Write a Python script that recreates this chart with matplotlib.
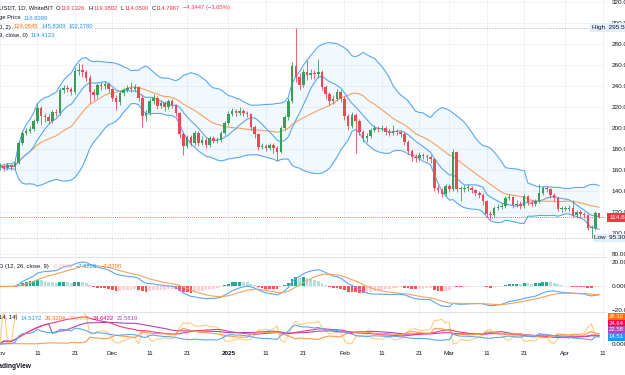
import numpy as np
import pandas as pd
import matplotlib
matplotlib.use("Agg")
import matplotlib.pyplot as plt

W, H = 625, 375

# daily candles, 2024-11-01 .. 2025-04-10
opens = [163, 164, 162, 165, 163, 167, 186, 195, 197, 199,
         207, 219, 211, 210, 207, 215, 214, 236, 238, 237,
         234, 254, 255, 253, 248, 234, 231, 241, 240, 242,
         237, 229, 225, 233, 236, 238, 237, 239, 229, 211,
         214, 226, 229, 221, 224, 220, 226, 222, 214, 194,
         183, 191, 186, 195, 186, 189, 184, 190, 188, 189,
         195, 205, 213, 216, 214, 216, 214, 213, 201, 194,
         182, 183, 181, 184, 181, 177, 200, 210, 226, 259,
         249, 241, 253, 250, 252, 251, 253, 239, 232, 226,
         228, 234, 228, 211, 202, 212, 207, 196, 190, 192,
         198, 200, 199, 200, 196, 195, 197, 196, 194, 187,
         178, 172, 171, 174, 173, 172, 170, 143, 141, 137,
         145, 142, 177, 142, 142, 143, 143, 141, 138, 136,
         130, 118, 117, 124, 125, 126, 133, 134, 127, 128,
         126, 135, 129, 128, 130, 138, 143, 142, 136, 133,
         123, 123, 123, 124, 117, 120, 118, 117, 105, 105,
         119.1326]
closes = [164, 162, 165, 163, 167, 186, 195, 197, 199, 207,
          219, 211, 210, 207, 215, 214, 236, 238, 237, 234,
          254, 255, 253, 248, 234, 231, 241, 240, 242, 237,
          229, 225, 233, 236, 238, 237, 239, 229, 211, 214,
          226, 229, 221, 224, 220, 226, 222, 214, 194, 183,
          191, 186, 195, 186, 189, 184, 190, 188, 189, 195,
          205, 213, 216, 214, 216, 214, 213, 201, 194, 182,
          183, 181, 184, 181, 177, 200, 210, 226, 259, 249,
          241, 253, 250, 252, 251, 253, 239, 232, 226, 228,
          234, 228, 211, 202, 212, 207, 196, 190, 192, 198,
          200, 199, 200, 196, 195, 197, 196, 194, 187, 178,
          172, 171, 174, 173, 172, 170, 143, 141, 137, 145,
          142, 177, 142, 142, 143, 143, 141, 138, 136, 130,
          118, 117, 124, 125, 126, 133, 134, 127, 128, 126,
          135, 129, 128, 130, 138, 143, 142, 136, 133, 123,
          123, 123, 124, 117, 120, 118, 117, 105, 105, 119.1414,
          114.7967]
highs = [167, 166, 167, 166, 169, 188, 197, 200, 202, 209,
         224, 221, 214, 213, 217, 218, 238, 241, 241, 239,
         258, 262, 261, 255, 250, 237, 243, 244, 245, 244,
         238, 231, 235, 238, 241, 244, 242, 240, 231, 217,
         229, 232, 230, 227, 226, 228, 228, 223, 215, 196,
         193, 193, 197, 197, 192, 190, 192, 192, 191, 197,
         207, 216, 219, 218, 220, 218, 216, 214, 203, 195,
         186, 185, 186, 186, 183, 202, 212, 229, 263, 295.5,
         252, 256, 265, 256, 255, 266, 255, 241, 234, 231,
         237, 236, 230, 213, 215, 214, 209, 198, 195, 200,
         203, 202, 203, 202, 199, 203, 199, 198, 196, 189,
         180, 175, 177, 176, 175, 174, 171, 146, 143, 147,
         147, 180, 178, 145, 146, 147, 145, 142, 140, 138,
         131, 121, 126, 128, 129, 135, 137, 135, 131, 130,
         137, 136, 131, 132, 147, 145, 145, 143, 138, 134,
         126, 126, 127, 131, 122, 122, 120, 118, 108, 121,
         119.3802]
lows = [160, 159, 160, 160, 161, 166, 184, 193, 195, 197,
        205, 203, 206, 204, 205, 211, 212, 233, 234, 231,
        232, 250, 249, 245, 224, 227, 229, 236, 237, 234,
        226, 217, 222, 230, 234, 234, 235, 226, 201, 207,
        212, 223, 218, 219, 216, 218, 219, 211, 190, 174,
        181, 183, 184, 183, 184, 181, 182, 186, 186, 187,
        193, 203, 211, 211, 212, 211, 210, 198, 190, 179,
        180, 178, 179, 176, 169, 176, 198, 208, 224, 244,
        236, 239, 246, 247, 247, 248, 236, 228, 222, 223,
        226, 225, 208, 198, 200, 176, 193, 187, 187, 190,
        196, 196, 197, 193, 192, 193, 193, 191, 184, 175,
        169, 168, 169, 170, 169, 167, 140, 138, 134, 135,
        139, 140, 139, 130, 139, 140, 138, 135, 133, 127,
        115, 113, 115, 122, 123, 124, 131, 124, 125, 123,
        124, 127, 126, 126, 129, 136, 139, 133, 130, 121,
        120, 121, 121, 115, 114, 115, 114, 103, 95.3, 103,
        114.05]
start_date = "2024-11-01"

price_ticks = [80, 100, 120, 140, 160, 180, 200, 220, 240, 260, 280, 300, 320]
tick_dates = ["2024-11-01", "2024-11-11", "2024-11-21", "2024-12-01", "2024-12-11",
              "2024-12-21", "2025-01-01", "2025-01-11", "2025-01-21", "2025-02-01",
              "2025-02-11", "2025-02-21", "2025-03-01", "2025-03-11", "2025-03-21",
              "2025-04-01", "2025-04-11"]
tick_labels = ["Nov", "11", "21", "Dec", "11", "21", "2025", "11", "21", "Feb",
               "11", "21", "Mar", "11", "21", "Apr", "11"]

UP, DOWN = "#3a9e58", "#eb4a55"
GRID = "#f0f3fa"
TXT = "#131722"
RED, BLUE, ORANGE = "#f23645", "#2196f3", "#ff6d00"

o = pd.Series(opens, dtype=float)
c = pd.Series(closes, dtype=float)
hi = pd.Series(highs, dtype=float)
lo = pd.Series(lows, dtype=float)
n = len(c)
x = np.arange(n)
t0 = pd.Timestamp(start_date)
tick_idx = [(pd.Timestamp(d) - t0).days for d in tick_dates]

# indicators from the candles
basis = c.rolling(20, min_periods=1).mean()
dev = c.rolling(20, min_periods=1).std(ddof=0)
upper, lower = basis + 2 * dev, basis - 2 * dev
ma9 = c.rolling(9, min_periods=1).mean()

macd = c.ewm(span=12, adjust=False).mean() - c.ewm(span=26, adjust=False).mean()
signal = macd.ewm(span=9, adjust=False).mean()
hist = macd - signal
prev = hist.shift(1).fillna(0)
hcol = [("#26a69a" if h > p else "#b2dfdb") if h >= 0 else ("#ff5252" if h < p else "#ffcdd2")
        for h, p in zip(hist, prev)]

upm = hi.diff()
dnm = -lo.diff()
pdm = pd.Series(np.where((upm > dnm) & (upm > 0), upm, 0.0))
mdm = pd.Series(np.where((dnm > upm) & (dnm > 0), dnm, 0.0))
tr = pd.concat([hi - lo, (hi - c.shift()).abs(), (lo - c.shift()).abs()], axis=1).max(axis=1)
rma = lambda s: s.ewm(alpha=1 / 14, adjust=False).mean()
atr = rma(tr)
pdi = 100 * rma(pdm) / atr
mdi = 100 * rma(mdm) / atr
dx = 100 * (pdi - mdi).abs() / (pdi + mdi).replace(0, np.nan)
dx = dx.fillna(0)
adx = rma(dx)
adxr = ((adx + adx.shift(14)) / 2).fillna(adx)

plt.rcParams["font.family"] = ["Liberation Sans", "DejaVu Sans"]
fig = plt.figure(figsize=(W / 100, H / 100), dpi=100)
fig.patch.set_facecolor("white")


def pane(top, bottom):
    return fig.add_axes([0, 1 - bottom / H, 606 / W, (bottom - top) / H])


ax = pane(0, 257)
axm = pane(257, 312)
axd = pane(312, 347)
for a in (ax, axm, axd):
    a.set_xlim(0.69, 161.86)
    a.set_xticks(tick_idx)
    a.grid(axis="x", color=GRID, lw=0.7)
    a.set_axisbelow(True)
    for s in a.spines.values():
        s.set_visible(False)
    a.yaxis.tick_right()
    a.tick_params(axis="y", length=0, pad=4.2, labelsize=4.6, labelcolor=TXT)
    a.tick_params(axis="x", length=0, labelbottom=False)
for a in (axm, axd):
    a.spines["top"].set_visible(True)
    a.spines["top"].set_color("#e0e3eb")
    a.spines["top"].set_linewidth(0.8)

# main pane
ax.set_ylim(77.14, 321.9)
ax.set_yticks(price_ticks)
ax.set_yticklabels([f"{v:.2f}" for v in price_ticks])
ax.grid(axis="y", color=GRID, lw=0.7)

ax.fill_between(x, lower, upper, color=BLUE, alpha=0.06, lw=0)
ax.plot(x, upper, color="#5ba8ef", lw=0.8)
ax.plot(x, lower, color="#5ba8ef", lw=0.8)
ax.plot(x, basis, color="#f5a261", lw=0.8)
ax.plot(x, ma9, color="#5ba8ef", lw=0.8)

cols = np.where(c >= o, UP, DOWN)
ax.vlines(x, lo, hi, colors=cols, lw=0.6, zorder=3)
body = np.maximum((c - o).abs(), 0.5)
ax.bar(x, body, bottom=np.minimum(o, c), width=0.68, color=cols, zorder=4)

ax.axhline(c.iloc[-1], color=RED, ls=(0, (1, 1.5)), lw=0.6)
ax.axhline(hi.max(), color="#a9acb5", ls=(0, (2, 2)), lw=0.5)
ax.axhline(lo.min(), color="#a9acb5", ls=(0, (2, 2)), lw=0.5)
ytr = ax.get_yaxis_transform()
ax.text(0.977, hi.max(), f"High  {hi.max():.2f}", transform=ytr, fontsize=4.6, color=TXT,
        va="center", ha="left", zorder=10,
        bbox=dict(boxstyle="square,pad=0.3", fc="#e3eefc", ec="none"))
ax.text(0.981, lo.min(), f"Low  {lo.min():.2f}", transform=ytr, fontsize=4.6, color=TXT,
        va="center", ha="left", zorder=10,
        bbox=dict(boxstyle="square,pad=0.3", fc="#e3eefc", ec="none"))
ax.text(1.005, c.iloc[-1], f"{c.iloc[-1]:.2f}", transform=ytr, fontsize=4.6, color="white",
        va="center", ha="left", zorder=10,
        bbox=dict(boxstyle="square,pad=0.35", fc=RED, ec="none"))

# MACD pane
axm.set_ylim(-21.5, 24.6)
axm.set_yticks([-20, 0, 20])
axm.set_yticklabels(["\u221220.00", "0.000", "20.00"])
axm.axhline(0, color="#e6e8ee", lw=0.6)
axm.bar(x, hist, width=0.75, color=hcol, zorder=2)
axm.plot(x, macd, color="#5ba8ef", lw=0.8, zorder=3)
axm.plot(x, signal, color="#f5a261", lw=0.8, zorder=3)

# DMI pane
axd.set_ylim(-7.5, 80)
axd.set_yticks([0])
axd.set_yticklabels(["0.000"])
axd.plot(x, dx, color="#ffcc80", lw=0.8)
axd.plot(x, adxr, color="#ab47bc", lw=0.8)
axd.plot(x, adx, color="#f23e7a", lw=0.8)
axd.plot(x, mdi, color="#ff9a4d", lw=0.8)
axd.plot(x, pdi, color="#5ba8ef", lw=0.8)
axd.set_xticklabels(tick_labels)
axd.tick_params(axis="x", labelbottom=True, labelsize=4.6, labelcolor=TXT, pad=3.2)
for lab in axd.get_xticklabels():
    if lab.get_text() == "2025":
        lab.set_fontweight("bold")

dmi_boxes = [(0.86, "26.32", ORANGE), (0.68, "24.64", "#f50057"),
             (0.50, "22.58", "#ab47bc"), (0.29, "14.51", BLUE)]
for yy, s, col in dmi_boxes:
    axd.text(1.005, yy, s, transform=axd.transAxes, fontsize=4.3, color="white",
             va="center", ha="left", bbox=dict(boxstyle="square,pad=0.2", fc=col, ec="none"))

renderer = fig.canvas.get_renderer()


def flow(py, tokens, size=4.2):
    # tokens laid out left to right: (text, colour, gap after in px)
    px = -1
    for s, col, gap in tokens:
        t = fig.text(px / W, 1 - py / H, s, color=col, fontsize=size, va="center", ha="left")
        px += t.get_window_extent(renderer=renderer).width + gap


flow(8, [("USDT, 1D, WhiteBIT", TXT, 3),
         ("O", TXT, 0.5), (f"{o.iloc[-1]:.4f}", RED, 3),
         ("H", TXT, 0.5), (f"{hi.iloc[-1]:.4f}", RED, 3),
         ("L", TXT, 0.5), (f"{lo.iloc[-1]:.4f}", RED, 3),
         ("C", TXT, 0.5), (f"{c.iloc[-1]:.4f}", RED, 3),
         ("\u22124.3447 (\u22123.65%)", RED, 0)])
flow(18, [("ge Price", TXT, 3), ("116.8399", BLUE, 0)])
flow(27, [("0, 2)", TXT, 3), ("124.0545", ORANGE, 3), ("145.8309", BLUE, 3),
          ("102.2780", BLUE, 0)])
flow(35.5, [("9, close, 0)", TXT, 3), ("114.4123", BLUE, 0)])

flow(266.5, [("D (12, 26, close, 9)", TXT, 3), ("\u22120.8520", "#ffb3bd", 3),
             ("\u22127.9220", BLUE, 3), ("\u22127.0700", ORANGE, 0)])
flow(318, [("14, 14)", TXT, 3), ("14.5172", BLUE, 3), ("26.3204", ORANGE, 3),
           ("27.1162", "#ffb74d", 3), ("24.6422", "#f50057", 3), ("22.5819", "#ab47bc", 0)])

fig.text(-7 / W, 1 - 367 / H, "TradingView", color=TXT, fontsize=4.8, fontweight="bold",
         va="center", ha="left")

fig.savefig("out.png", dpi=100, facecolor="white")
